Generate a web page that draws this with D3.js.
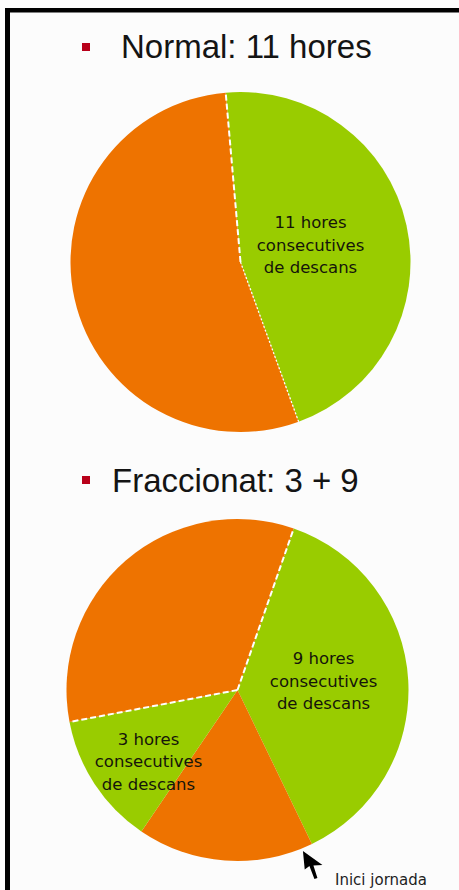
<!DOCTYPE html>
<html>
<head>
<meta charset="utf-8">
<script src="https://cdn.jsdelivr.net/npm/d3@7"></script>
<style>
  html, body { margin: 0; padding: 0; background: #fcfcfc; }
  svg { display: block; }
</style>
</head>
<body>
<script>
// Daily schedule split into rest ("descans") and the rest of the day, in hours (24h per pie)
const normalTitle = "Normal: 11 hores";
const normalHours = [11, 13];
const normalKinds = ["descans", "jornada"];
const normalLabels = [["11 hores", "consecutives", "de descans"], []];

const splitTitle = "Fraccionat: 3 + 9";
const splitHours = [9, 4, 3, 8];
const splitKinds = ["descans", "jornada", "descans", "jornada"];
const splitLabels = [["9 hores", "consecutives", "de descans"], [], ["3 hores", "consecutives", "de descans"], []];

const startLabel = "Inici jornada";

const W = 459, H = 890;
const color = d3.scaleOrdinal().domain(["descans", "jornada"]).range(["#99cc00", "#ee7300"]);
const deg = Math.PI / 180;

const svg = d3.select("body").append("svg").attr("width", W).attr("height", H);
svg.append("rect").attr("width", W).attr("height", H).attr("fill", "#fcfcfc");

// frame edges
svg.append("rect").attr("x", 5).attr("y", 8).attr("width", W - 5).attr("height", 4.5).attr("fill", "#000");
svg.append("rect").attr("x", 5).attr("y", 8).attr("width", 5).attr("height", H - 8).attr("fill", "#000");

function drawPie(cfg) {
  const hours = cfg.hours;
  const start = cfg.startDeg * deg;
  const pie = d3.pie().sort(null).value(d => d)
    .startAngle(start).endAngle(start + 2 * Math.PI);
  const arcs = pie(hours);
  const arc = d3.arc().innerRadius(0).outerRadius(cfg.r);

  // title with bullet
  svg.append("rect").attr("x", 82).attr("y", cfg.bulletY).attr("width", 8).attr("height", 8).attr("fill", "#b8001a");
  svg.append("text").attr("x", cfg.titleX).attr("y", cfg.titleY)
    .attr("font-family", "'Liberation Sans', Arial, sans-serif").attr("font-size", 33)
    .attr("fill", "#141414").text(cfg.title);

  const g = svg.append("g").attr("transform", `translate(${cfg.cx},${cfg.cy})`);
  g.selectAll("path.slice").data(arcs).join("path").attr("class", "slice")
    .attr("d", arc).attr("fill", (d, i) => color(cfg.kinds[i]));

  // white divider strokes on selected slice boundaries
  cfg.dividers.forEach(dv => {
    const a = arcs[dv.slice][dv.edge === "start" ? "startAngle" : "endAngle"];
    g.append("line").attr("x1", 0).attr("y1", 0)
      .attr("x2", cfg.r * Math.sin(a)).attr("y2", -cfg.r * Math.cos(a))
      .attr("stroke", "#fff").attr("stroke-width", dv.width).attr("stroke-dasharray", dv.dash);
  });

  // slice labels, placed along each slice's mid angle (with a small nudge)
  arcs.forEach((d, i) => {
    const lines = cfg.labels[i];
    if (!lines.length) return;
    const place = cfg.labelPlace[i];
    const mid = (d.startAngle + d.endAngle) / 2 + place.shift * deg;
    const rr = cfg.r * place.radius;
    const x = rr * Math.sin(mid), y = -rr * Math.cos(mid);
    const t = g.append("text").attr("text-anchor", "middle")
      .attr("font-family", "'DejaVu Sans', Verdana, sans-serif").attr("font-size", 16.5)
      .attr("fill", "#15150a");
    lines.forEach((ln, k) => {
      t.append("tspan").attr("x", x).attr("y", y + 6 + (k - 1) * 22.5).text(ln);
    });
  });
  return { arcs };
}

drawPie({
  title: normalTitle, titleX: 121, titleY: 58, bulletY: 43,
  hours: normalHours, kinds: normalKinds, labels: normalLabels,
  cx: 240.5, cy: 262, r: 170, startDeg: -5,
  labelPlace: [{ radius: 0.424, shift: -1.2 }, null],
  dividers: [
    { slice: 0, edge: "start", width: 2, dash: "6 3" },
    { slice: 0, edge: "end", width: 1.3, dash: "2 2" }
  ]
});

const split = drawPie({
  title: splitTitle, titleX: 112, titleY: 492, bulletY: 476,
  hours: splitHours, kinds: splitKinds, labels: splitLabels,
  cx: 237.5, cy: 690, r: 171, startDeg: 19.2,
  labelPlace: [{ radius: 0.506, shift: -2.7 }, null, { radius: 0.666, shift: -5.3 }, null],
  dividers: [
    { slice: 0, edge: "start", width: 2, dash: "6 3" },
    { slice: 2, edge: "end", width: 2, dash: "6 3" }
  ]
});

// pointer just below the start of the working day (end of the 9h rest)
const a0 = split.arcs[0].endAngle;
const tipX = 237.5 + 171 * Math.sin(a0) - 9, tipY = 690 - 171 * Math.cos(a0) + 7;
svg.append("path")
  .attr("transform", `translate(${tipX},${tipY})`)
  .attr("d", "M0,0 L1.8,18.5 L6.5,15 L11.5,28 L14.5,27 L10.5,14.5 L19.5,14 Z")
  .attr("fill", "#000");
svg.append("text").attr("x", 335).attr("y", 885)
  .attr("font-family", "'DejaVu Sans', Verdana, sans-serif").attr("font-size", 15)
  .attr("fill", "#1e1e1e").text(startLabel);
</script>
</body>
</html>
